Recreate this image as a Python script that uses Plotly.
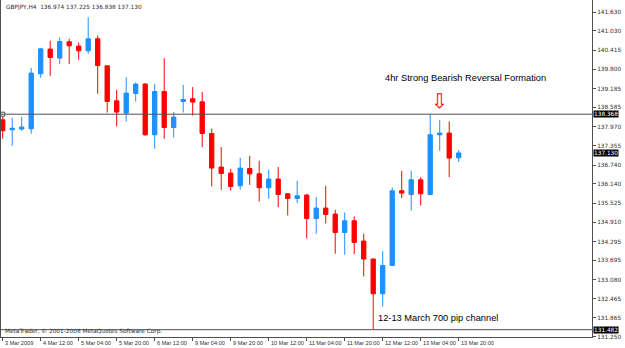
import plotly.graph_objects as go

# ---- data (GBPJPY, H4) ----
opens = [138.189, 137.870, 137.892, 137.902, 139.659, 140.448, 140.160, 140.681, 140.544, 140.394,
         140.777, 139.914, 138.796, 138.403, 139.029, 139.330, 137.710, 139.093, 137.943, 138.774,
         138.860, 138.764, 137.751, 136.678, 136.486, 136.080, 136.633, 136.464, 136.017, 136.295,
         135.825, 135.675, 135.783, 135.036, 135.368, 135.176, 134.588, 134.962, 134.314, 133.739,
         132.630, 133.534, 135.921, 135.802, 136.272, 135.802, 137.710, 137.764, 136.974]
highs = [138.285, 138.253, 138.285, 139.850, 140.489, 140.713, 140.818, 140.777, 140.659, 141.470,
         140.882, 139.924, 139.148, 139.553, 139.381, 139.362, 139.330, 140.160, 138.435, 139.307,
         139.234, 139.074, 137.911, 137.317, 136.624, 136.975, 137.039, 136.879, 136.592, 136.678,
         135.847, 136.240, 135.825, 135.719, 136.080, 135.314, 135.227, 135.100, 134.547, 133.760,
         133.994, 136.026, 136.560, 136.560, 136.358, 138.368, 138.189, 138.135, 137.225]
lows = [137.582, 137.358, 137.838, 137.742, 139.531, 139.595, 139.969, 139.969, 140.106, 140.298,
        139.020, 138.422, 137.975, 138.135, 138.774, 137.678, 137.263, 137.582, 137.624, 138.422,
        138.326, 137.317, 136.058, 135.953, 135.930, 135.953, 136.112, 135.579, 135.665, 135.400,
        135.132, 135.528, 134.397, 134.547, 134.876, 133.908, 133.876, 133.898, 133.183, 131.482,
        132.224, 133.520, 135.688, 135.291, 135.451, 135.790, 137.199, 136.358, 136.838]
closes = [137.838, 137.918, 137.956, 139.681, 140.457, 140.180, 140.691, 140.553, 140.394, 140.777,
          139.924, 138.774, 138.435, 139.042, 139.330, 137.710, 139.093, 137.943, 138.275, 138.838,
          138.755, 137.751, 136.646, 136.473, 136.058, 136.646, 136.464, 136.017, 136.295, 135.802,
          135.675, 135.761, 135.036, 135.368, 135.164, 134.588, 134.962, 134.269, 133.739, 132.630,
          133.534, 135.921, 135.847, 136.272, 135.825, 137.710, 137.764, 136.965, 137.130]

time_tick_bars = [0, 4, 8, 12, 16, 20, 24, 28, 32, 36, 40, 44, 48]
time_tick_labels = ["3 Mar 2009", "4 Mar 12:00", "5 Mar 04:00", "5 Mar 20:00", "6 Mar 12:00",
                    "9 Mar 04:00", "9 Mar 20:00", "10 Mar 12:00", "11 Mar 04:00", "11 Mar 20:00",
                    "12 Mar 12:00", "13 Mar 04:00", "13 Mar 20:00"]

price_ticks = [141.630, 141.030, 140.415, 139.800, 139.185, 138.585, 137.970, 137.355, 136.740,
               136.140, 135.525, 134.910, 134.295, 133.695, 133.080, 132.465, 131.865, 131.250]

hline_high = 138.368
hline_low = 131.482
bid_price = 137.130

title_text = "GBPJPY,H4  136.974 137.225 136.838 137.130"
copyright_text = "MetaTrader, \u00a9 2001-2008 MetaQuotes Software Corp."
note_top = "4hr Strong Bearish Reversal Formation"
note_top_pos = (40.0, 139.53)
note_bottom = "12-13 March 700 pip channel"
note_bottom_pos = (39.3, 131.86)
arrow_pos = (46, 138.78)

bars = list(range(len(opens)))

BLUE = "#1E90FF"
RED = "#FF0000"
AX = "#505050"
TXT = "#303030"
SMALL = 5.8

fig = go.Figure()
fig.add_trace(go.Candlestick(
    x=bars, open=opens, high=highs, low=lows, close=closes,
    increasing=dict(line=dict(color=BLUE, width=1), fillcolor=BLUE),
    decreasing=dict(line=dict(color=RED, width=1), fillcolor=RED),
    whiskerwidth=0, hoverinfo="skip", showlegend=False,
))

# anchor square of the horizontal line object
fig.add_trace(go.Scatter(x=[0], y=[hline_high], mode="markers",
                         marker=dict(symbol="square-open", size=4, color=AX, line=dict(width=1, color=AX)),
                         hoverinfo="skip", showlegend=False))

for yv in (hline_high, hline_low):
    fig.add_shape(type="line", xref="paper", x0=0, x1=1, yref="y", y0=yv, y1=yv,
                  line=dict(color=AX, width=1))

annotations = []
annotations.append(dict(text=title_text, xref="paper", yref="paper", x=0, y=1, xanchor="left",
                        yanchor="top", xshift=3, yshift=-2, showarrow=False,
                        font=dict(size=SMALL, color=TXT, family="DejaVu Sans")))
annotations.append(dict(text=copyright_text, xref="paper", yref="paper", x=0, y=0, xanchor="left",
                        yanchor="bottom", xshift=2, yshift=0, showarrow=False,
                        font=dict(size=SMALL, color=TXT, family="DejaVu Sans")))
for b, lab in zip(time_tick_bars, time_tick_labels):
    annotations.append(dict(text=lab, xref="x", yref="paper", x=b, y=0, xanchor="left",
                            yanchor="top", xshift=0, yshift=-1, showarrow=False,
                            font=dict(size=5.6, color=TXT, family="Liberation Sans")))
for pv in (hline_high, bid_price, hline_low):
    annotations.append(dict(text="%.3f" % pv, xref="paper", yref="y", x=1, y=pv, xanchor="left",
                            yanchor="middle", xshift=1, showarrow=False, bgcolor="#000000",
                            borderpad=0, font=dict(size=SMALL, color="#FFFFFF", family="DejaVu Sans")))
annotations.append(dict(text=note_top, xref="x", yref="y", x=note_top_pos[0], y=note_top_pos[1],
                        xanchor="left", yanchor="middle", showarrow=False,
                        font=dict(size=9.3, color="#000000", family="Liberation Sans")))
annotations.append(dict(text=note_bottom, xref="x", yref="y", x=note_bottom_pos[0], y=note_bottom_pos[1],
                        xanchor="left", yanchor="middle", showarrow=False,
                        font=dict(size=9.3, color="#000000", family="Liberation Sans")))
annotations.append(dict(text="\u21e9", xref="x", yref="y", x=arrow_pos[0], y=arrow_pos[1],
                        xanchor="center", yanchor="middle", showarrow=False,
                        font=dict(size=20, color=RED, family="DejaVu Sans")))

fig.update_layout(
    template="none",
    width=625, height=348,
    margin=dict(l=1, r=33, t=0, b=11, pad=0),
    paper_bgcolor="#FFFFFF", plot_bgcolor="#FFFFFF",
    boxgap=0.35,
    annotations=annotations,
    xaxis=dict(range=[-0.179, 62.03], showgrid=False, zeroline=False, showline=True,
               linecolor=AX, linewidth=1, mirror=False,
               tickvals=time_tick_bars, ticktext=[""] * len(time_tick_bars),
               ticks="outside", ticklen=3, tickcolor=AX, tickwidth=1,
               rangeslider=dict(visible=False), automargin=False, fixedrange=True),
    yaxis=dict(range=[131.248, 142.017], side="right", showgrid=False, zeroline=False,
               showline=True, linecolor=AX, linewidth=1, mirror=True,
               tickvals=price_ticks, ticktext=["%.3f" % v for v in price_ticks],
               ticks="outside", ticklen=3, tickcolor=AX, tickwidth=1,
               tickfont=dict(size=SMALL, color=TXT, family="DejaVu Sans"),
               automargin=False, fixedrange=True),
)

fig.write_html("out.html")
